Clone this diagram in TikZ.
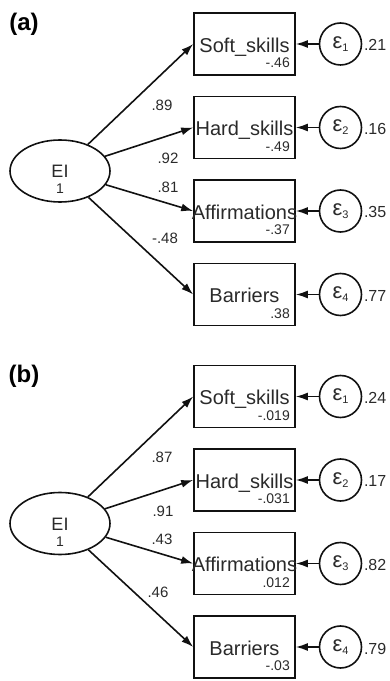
\documentclass[tikz,border=0pt]{standalone}
\usepackage{fontspec}
\setmainfont{Liberation Sans}
\usetikzlibrary{arrows.meta,positioning,shapes,calc}
\definecolor{ink}{HTML}{111111}
\definecolor{inkgray}{HTML}{2A2A2A}
\tikzset{
  obsbox/.style={draw=ink,line width=1.6pt,minimum width=101pt,minimum height=62pt,
                 inner sep=0pt},
  obstext/.style={anchor=base,inner sep=0pt,text=inkgray,font=\fontsize{20}{20}\selectfont},
  meanlab/.style={anchor=base east,inner sep=0pt,text=inkgray,font=\fontsize{14}{14}\selectfont},
  latent/.style={ellipse,draw=ink,line width=1.6pt,minimum width=100pt,minimum height=62pt,
                 inner sep=0pt},
  lattext/.style={anchor=base,inner sep=0pt,text=inkgray,font=\fontsize{18}{18}\selectfont},
  latvar/.style={anchor=base,inner sep=0pt,text=inkgray,font=\fontsize{14}{14}\selectfont},
  errc/.style={circle,draw=ink,line width=1.6pt,minimum size=42pt,inner sep=0pt,text=inkgray},
  varlab/.style={anchor=base west,inner sep=0pt,text=inkgray,font=\fontsize{16}{16}\selectfont},
  pathlab/.style={inner sep=0pt,text=inkgray,font=\fontsize{15}{15}\selectfont},
  panellab/.style={inner sep=0pt,font=\fontsize{24}{24}\selectfont\bfseries},
  loadarr/.style={-{Latex[length=12pt,width=8pt]},line width=1.6pt,draw=ink},
  errarr/.style={-{Latex[length=12pt,width=8pt]},line width=1.6pt,draw=ink}
}
\newcommand{\errsym}[1]{{\fontsize{22}{22}\selectfont ε}\raisebox{-3pt}{\fontsize{11}{11}\selectfont #1}}

\begin{document}
\begin{tikzpicture}[x=1pt,y=1pt]
    \path[use as bounding box] (0,0) rectangle (390,681);

    % panel (a)
    \node[panellab] (aLab) at (24,657) {(a)};
    \node[latent] (aEI) at (60,510) {};
    \node[lattext] (aEIt) at ([yshift=-7pt]aEI.center) {EI};
    \node[latvar] (aEIv) at ([yshift=-23pt]aEI.center) {1};

    \node[obsbox] (aS) at (244.5,637) {};
    \node[obsbox] (aH) at (244.5,553.5) {};
    \node[obsbox] (aA) at (244.5,470) {};
    \node[obsbox] (aB) at (244.5,386.5) {};
    \node[obstext] (aSt) at ([yshift=-8.5pt]aS.center) {Soft\_skills};
    \node[obstext] (aHt) at ([yshift=-8.5pt]aH.center) {Hard\_skills};
    \node[obstext] (aAt) at ([yshift=-8.5pt]aA.center) {Affirmations};
    \node[obstext] (aBt) at ([yshift=-8.5pt]aB.center) {Barriers};
    \node[meanlab] (aSm) at ([xshift=45.5pt,yshift=-24pt]aS.center) {-.46};
    \node[meanlab] (aHm) at ([xshift=45.5pt,yshift=-24pt]aH.center) {-.49};
    \node[meanlab] (aAm) at ([xshift=45.5pt,yshift=-24pt]aA.center) {-.37};
    \node[meanlab] (aBm) at ([xshift=45.5pt,yshift=-24pt]aB.center) {.38};

    \node[errc] (aE1) at (340.5,637) {\errsym{1}};
    \node[errc] (aE2) at (340.5,553.5) {\errsym{2}};
    \node[errc] (aE3) at (340.5,470) {\errsym{3}};
    \node[errc] (aE4) at (340.5,386.5) {\errsym{4}};
    \node[varlab] (aE1v) at ([xshift=1.5pt,yshift=-7pt]aE1.east) {.21};
    \node[varlab] (aE2v) at ([xshift=1.5pt,yshift=-7pt]aE2.east) {.16};
    \node[varlab] (aE3v) at ([xshift=1.5pt,yshift=-7pt]aE3.east) {.35};
    \node[varlab] (aE4v) at ([xshift=1.5pt,yshift=-7pt]aE4.east) {.77};

    \draw[loadarr] (aEI) -- (aS.west);
    \draw[loadarr] (aEI) -- (aH.west);
    \draw[loadarr] (aEI) -- (aA.west);
    \draw[loadarr] (aEI) -- (aB.west);
    \draw[errarr] (aE1) -- (aS.east);
    \draw[errarr] (aE2) -- (aH.east);
    \draw[errarr] (aE3) -- (aA.east);
    \draw[errarr] (aE4) -- (aB.east);

    \node[pathlab] (aL1) at (162,576) {.89};
    \node[pathlab] (aL2) at (168,523) {.92};
    \node[pathlab] (aL3) at (168,494) {.81};
    \node[pathlab] (aL4) at (165,443) {-.48};

    % panel (b)
    \node[panellab] (bLab) at (24,304.5) {(b)};
    \node[latent] (bEI) at (60,157.5) {};
    \node[lattext] (bEIt) at ([yshift=-7pt]bEI.center) {EI};
    \node[latvar] (bEIv) at ([yshift=-23pt]bEI.center) {1};

    \node[obsbox] (bS) at (244.5,284.5) {};
    \node[obsbox] (bH) at (244.5,201) {};
    \node[obsbox] (bA) at (244.5,117.5) {};
    \node[obsbox] (bB) at (244.5,34) {};
    \node[obstext] (bSt) at ([yshift=-8.5pt]bS.center) {Soft\_skills};
    \node[obstext] (bHt) at ([yshift=-8.5pt]bH.center) {Hard\_skills};
    \node[obstext] (bAt) at ([yshift=-8.5pt]bA.center) {Affirmations};
    \node[obstext] (bBt) at ([yshift=-8.5pt]bB.center) {Barriers};
    \node[meanlab] (bSm) at ([xshift=45.5pt,yshift=-24pt]bS.center) {-.019};
    \node[meanlab] (bHm) at ([xshift=45.5pt,yshift=-24pt]bH.center) {-.031};
    \node[meanlab] (bAm) at ([xshift=45.5pt,yshift=-24pt]bA.center) {.012};
    \node[meanlab] (bBm) at ([xshift=45.5pt,yshift=-24pt]bB.center) {-.03};

    \node[errc] (bE1) at (340.5,284.5) {\errsym{1}};
    \node[errc] (bE2) at (340.5,201) {\errsym{2}};
    \node[errc] (bE3) at (340.5,117.5) {\errsym{3}};
    \node[errc] (bE4) at (340.5,34) {\errsym{4}};
    \node[varlab] (bE1v) at ([xshift=1.5pt,yshift=-7pt]bE1.east) {.24};
    \node[varlab] (bE2v) at ([xshift=1.5pt,yshift=-7pt]bE2.east) {.17};
    \node[varlab] (bE3v) at ([xshift=1.5pt,yshift=-7pt]bE3.east) {.82};
    \node[varlab] (bE4v) at ([xshift=1.5pt,yshift=-7pt]bE4.east) {.79};

    \draw[loadarr] (bEI) -- (bS.west);
    \draw[loadarr] (bEI) -- (bH.west);
    \draw[loadarr] (bEI) -- (bA.west);
    \draw[loadarr] (bEI) -- (bB.west);
    \draw[errarr] (bE1) -- (bS.east);
    \draw[errarr] (bE2) -- (bH.east);
    \draw[errarr] (bE3) -- (bA.east);
    \draw[errarr] (bE4) -- (bB.east);

    \node[pathlab] (bL1) at (162,224) {.87};
    \node[pathlab] (bL2) at (163,170) {.91};
    \node[pathlab] (bL3) at (162,142) {.43};
    \node[pathlab] (bL4) at (158,89) {.46};
\end{tikzpicture}
\end{document}
